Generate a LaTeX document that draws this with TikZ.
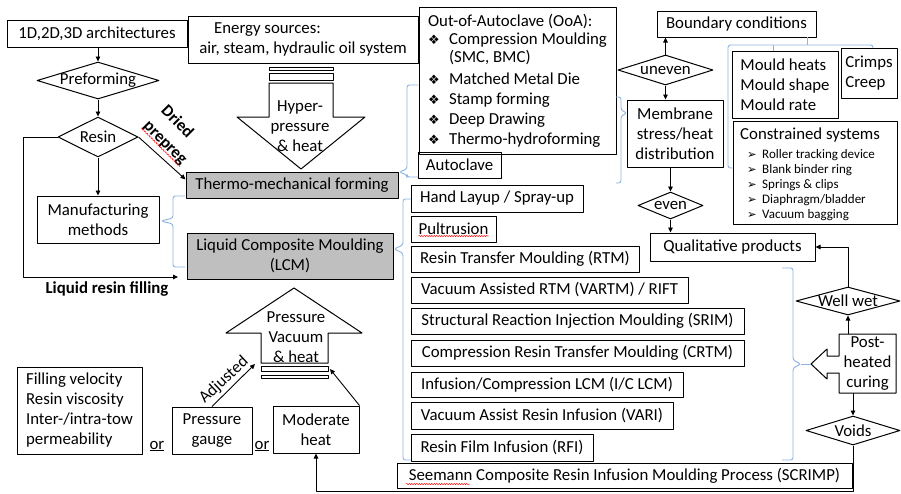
\documentclass[tikz,border=0pt]{standalone}
\usepackage{fontspec}
\setmainfont{Carlito}
\newfontfamily\symf{DejaVu Sans}
\usetikzlibrary{arrows.meta,shapes.geometric,calc,decorations.pathmorphing}
\definecolor{brc}{HTML}{8FB4E0}
\definecolor{gfill}{HTML}{BFBFBF}
\newcommand\myfm{\fontsize{16.8pt}{20pt}\selectfont}
\newcommand\myfs{\fontsize{13pt}{15.2pt}\selectfont}
\newcommand\mybul{\makebox[21pt][l]{\symf\fontsize{13pt}{13pt}\selectfont ❖}}
\newcommand\myarw{\makebox[15pt][l]{\symf\fontsize{11.5pt}{11.5pt}\selectfont ➢}}
\begin{document}
\begin{tikzpicture}[x=1pt,y=-1pt,line join=round,
  box/.style={draw=black,line width=1pt,inner sep=0pt,align=center,font=\myfm},
  gbox/.style={box,fill=gfill},
  dia/.style={draw=black,line width=1pt,shape=diamond,inner sep=0pt},
  txt/.style={inner sep=0pt,align=center,font=\myfm},
  arr/.style={draw=black,line width=0.9pt,-{Triangle[length=5pt,width=4.5pt]}},
  brace/.style={draw=brc,line width=0.9pt,rounded corners=2.5pt},
  blockar/.style={draw=black,line width=1pt,fill=white},
  squig/.style={draw=red,line width=0.5pt,decorate,decoration={snake,amplitude=0.6pt,segment length=2.5pt}}
]
\useasboundingbox (0,0) rectangle (901,493);
\fill[white] (0,0) rectangle (901,493);

% ---------- left column ----------
\node[box,minimum width=180,minimum height=27] (arch) at (97,33.5) {1D,2D,3D architectures};
\node[dia,minimum width=122,minimum height=37] (pre) at (98,80.5) {};
\node[txt] (preT) at (pre) {Preforming};
\node[dia,minimum width=80,minimum height=40] (resin) at (98,137) {};
\node[txt] (resinT) at (resin) {Resin};
\node[box,minimum width=122,minimum height=47] (manu) at (98,219.5) {Manufacturing\\methods};
\draw[arr] (pre.north |- arch.south) -- (pre.north);
\draw[arr] (pre.south) -- (resin.north);
\draw[arr] (resin.south) -- (manu.north);

\node[gbox,minimum width=212,minimum height=26] (thermo) at (292,185) {Thermo-mechanical forming};
\node[gbox,minimum width=206,minimum height=46] (lcm) at (290,256) {Liquid Composite Moulding\\(LCM)};

\coordinate (lrf) at (178,277);
\draw[arr] (resin.west) -- ++(-34,0) |- (lrf);
\node[txt,font=\myfm\bfseries] (lrfT) at (107,289) {Liquid resin filling};
\draw[arr] (resin.east) -- (thermo.177);
\node[txt,font=\myfm\bfseries,rotate=-45] (driedT) at (178,121) {Dried};
\node[txt,font=\myfm\bfseries,rotate=-45] (prepT) at (164,144) {prepreg};
\draw[squig] ($(prepT.base west)!2pt!-90:(prepT.base east)$) -- ($(prepT.base east)!2pt!90:(prepT.base west)$);

\draw[brace] (185,196) -- (173,196) -- (173,218) -- (161,221) -- (173,224) -- (173,267) -- (185,267);

% ---------- energy / hyper-pressure arrow ----------
\node[box,minimum width=230,minimum height=47] (energy) at (303,39.5) {Energy sources:\hspace*{71pt}\\air, steam, hydraulic oil system};
\draw[blockar] (269,67) rectangle (333,70);
\draw[blockar] (269,73) rectangle (333,80);
\draw[blockar] (269,83) -- (333,83) -- (333,117) -- (365,117) -- (301,169) -- (237,117) -- (269,117) -- cycle;
\node[txt] (hyper) at (300,126) {Hyper-\\pressure\\\& heat};

% ---------- pressure arrow and bottom left ----------
\draw[blockar] (294,288) -- (362,333) -- (328,333) -- (328,363) -- (261,363) -- (261,333) -- (226,333) -- cycle;
\draw[blockar] (261,366.7) rectangle (328,371.7);
\draw[blockar] (261,375) rectangle (328,378.3);
\node[txt] (pvh) at (296,337) {Pressure\\Vacuum\\\& heat};

\node[box,minimum width=125,minimum height=87,align=left] (fillv) at (79.5,410.5) {Filling velocity\\Resin viscosity\\Inter-/intra-tow\\permeability};
\node[box,minimum width=80,minimum height=47] (gauge) at (212,430.5) {Pressure\\gauge};
\node[box,minimum width=86,minimum height=47] (mod) at (316,429.5) {Moderate\\heat};
\node[txt] (or1) at (157,446) {\underline{or}};
\node[txt] (or2) at (262,446) {\underline{or}};
\coordinate (adjTip) at (255,364);
\coordinate (modTip) at (330,369);
\draw[arr] (gauge.north) -- (adjTip);
\draw[arr] (mod.north east) -- (modTip);
\node[txt,rotate=43] (adjT) at (224,380) {Adjusted};

% ---------- OoA / Autoclave ----------
\node[box,minimum width=197,minimum height=147,align=left] (ooa) at (517.5,80.5) {Out-of-Autoclave (OoA):\\[-2pt]
\mybul Compression Moulding\\[-2pt]
\hspace*{21pt}(SMC, BMC)\\[2pt]
\mybul Matched Metal Die\\
\mybul Stamp forming\\
\mybul Deep Drawing\\
\mybul Thermo-hydroforming};
\node[box,minimum width=83,minimum height=26] (autoc) at (459.5,165) {Autoclave};
\draw[brace] (418,85) -- (407,85) -- (407,169) -- (399,172) -- (407,175) -- (407,177) -- (418,177);

% ---------- method boxes ----------
\node[box,minimum width=172,minimum height=27] (hand) at (497,198.5) {Hand Layup / Spray-up};
\node[box,minimum width=85,minimum height=26] (pult) at (453.5,229) {Pultrusion};
\node[box,minimum width=228,minimum height=26] (rtm) at (525,259) {Resin Transfer Moulding (RTM)};
\node[box,minimum width=277,minimum height=26] (vartm) at (549.5,290) {Vacuum Assisted RTM (VARTM) / RIFT};
\node[box,minimum width=333,minimum height=26] (srim) at (577.5,321) {Structural Reaction Injection Moulding (SRIM)};
\node[box,minimum width=333,minimum height=26] (crtm) at (577.5,353) {Compression Resin Transfer Moulding (CRTM)};
\node[box,minimum width=272,minimum height=25] (iclcm) at (547,384.5) {Infusion/Compression LCM (I/C LCM)};
\node[box,minimum width=262,minimum height=27] (vari) at (542,415.5) {Vacuum Assist Resin Infusion (VARI)};
\node[box,minimum width=182,minimum height=27] (rfi) at (502,447.5) {Resin Film Infusion (RFI)};
\node[box,minimum width=455,minimum height=25] (scrimp) at (624.5,475.5) {Seemann Composite Resin Infusion Moulding Process (SCRIMP)};
\draw[squig] ($(pult.center)+(-35,7)$) -- ($(pult.center)+(35,7)$);
\draw[squig] ($(scrimp.center)+(-218.5,8.5)$) -- ($(scrimp.center)+(-155,8.5)$);
\draw[brace] (411,199) -- (403,199) -- (403,245) -- (394,249) -- (403,253) -- (403,460) -- (411,460);

% ---------- right part ----------
\node[box,minimum width=159,minimum height=26] (bound) at (736.5,24) {Boundary conditions};
\node[dia,minimum width=95,minimum height=30] (unev) at (665.5,70) {};
\node[txt] (unevT) at (unev) {uneven};
\node[box,minimum width=96,minimum height=67] (memb) at (675,133.5) {Membrane\\stress/heat\\distribution};
\node[dia,minimum width=65,minimum height=27] (even) at (670.5,205.5) {};
\node[txt] (evenT) at (even) {even};
\node[box,minimum width=106,minimum height=67,align=left] (mould) at (785,84.5) {Mould heats\\Mould shape\\Mould rate};
\node[box,minimum width=56,minimum height=50,align=left] (crimps) at (869,73) {Crimps\\Creep};
\node[box,minimum width=164,minimum height=103] (cons) at (815,172.5) {};
\node[txt,anchor=west] (consT) at (740,135) {Constrained systems};
\node[txt,anchor=west,align=left,font=\myfs] (consL) at (747,185) {\myarw Roller tracking device\\ \myarw Blank binder ring\\ \myarw Springs \& clips\\ \myarw Diaphragm/bladder\\ \myarw Vacuum bagging};
\node[box,minimum width=165,minimum height=28] (qual) at (732.5,247) {Qualitative products};
\node[dia,minimum width=104,minimum height=28] (ww) at (848,301) {};
\node[txt] (wwT) at (ww) {Well wet};
\draw[blockar] (839,334) -- (896,334) -- (896,393) -- (839,393) -- (839,373) -- (827,373) -- (827,379) -- (811,364) -- (827,349) -- (827,356) -- (839,356) -- cycle;
\node[txt,minimum width=57,minimum height=59] (post) at (867.5,363.5) {Post-\\heated\\curing};
\node[dia,minimum width=94,minimum height=29] (voids) at (853,430.5) {};
\node[txt] (voidsT) at (voids) {Voids};

\draw[arr] (unev.north) -- (unev.north |- bound.south);
\draw[arr] (unev.south) -- (unev.south |- memb.north);
\draw[arr] (even.north |- memb.south) -- (even.north);
\draw[arr] (even.south) -- (even.south |- qual.north);
\draw[arr] (ww.north) |- (qual.east);
\draw[arr] (ww.south |- post.north) -- (ww.south);
\draw[arr] (voids.north |- post.south) -- (voids.north);
\coordinate (botY) at (0,491);
\draw[arr] (voids.south) -- (voids.south |- botY) -| (mod.south);

\draw[brace] (616,97) -- (621,97) -- (621,110) -- (627,113) -- (621,116) -- (621,183) -- (616,183);
\draw[brace] (807,37) -- (807,45);
\draw[brace] (733,168) -- (728,168) -- (728,45) -- (873,45) -- (873,48);
\draw[brace] (773,45) -- (773,51);
\draw[brace] (782,268) -- (793,268) -- (793,360) -- (801,364) -- (793,368) -- (793,460) -- (782,460);
\draw[brace] (801,364) -- (811,364);
\end{tikzpicture}
\end{document}
